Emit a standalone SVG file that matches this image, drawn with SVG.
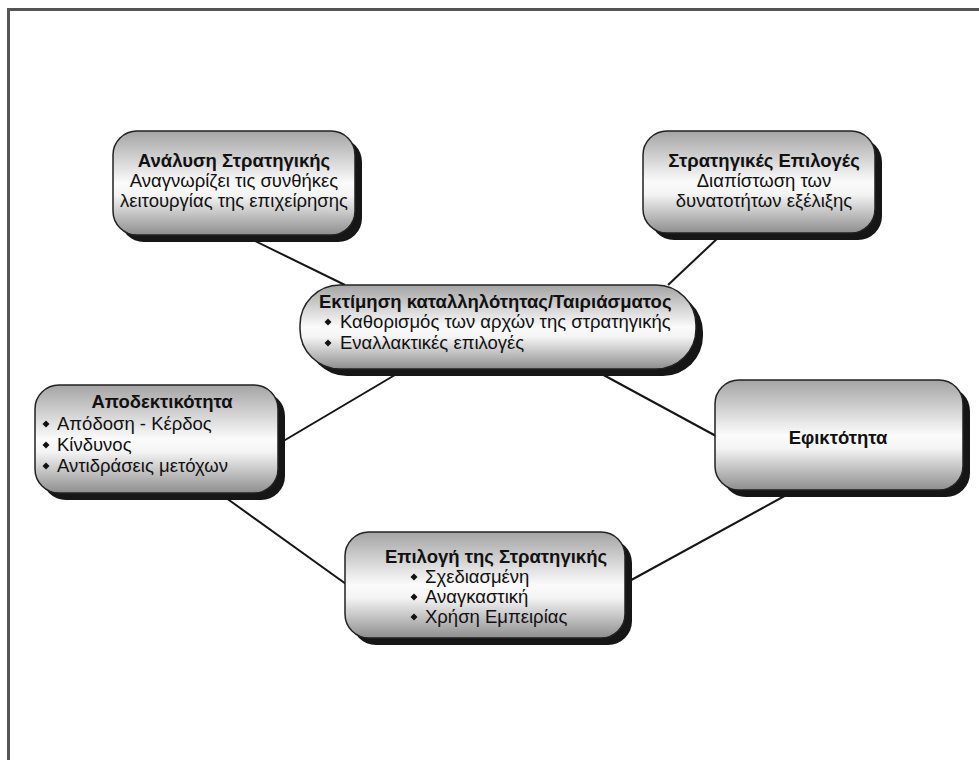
<svg xmlns="http://www.w3.org/2000/svg" width="979" height="760" viewBox="0 0 979 760">
  <defs>
    <linearGradient id="boxFill" x1="0" y1="0" x2="0" y2="1">
      <stop offset="0" stop-color="#a4a4a4"/>
      <stop offset="0.5" stop-color="#fbfbfb"/>
      <stop offset="0.62" stop-color="#f4f4f4"/>
      <stop offset="1" stop-color="#8e8e8e"/>
    </linearGradient>
    <polygon id="bullet" points="0,-3.5 3.5,0 0,3.5 -3.5,0"/>
  </defs>
  <style>
    .frame { fill: none; stroke: #555; stroke-width: 3; }
    .shadow { fill: #161616; }
    .box { fill: url(#boxFill); stroke: #222; stroke-width: 1.5; }
    .link { fill: none; stroke: #151515; stroke-width: 2; }
    text { font-family: "Liberation Sans", Arial, sans-serif; font-size: 18.5px; fill: #111; }
    .title { font-weight: bold; }
    .mid { text-anchor: middle; }
    .dot { fill: #111; }
  </style>

  <rect width="979" height="760" fill="#ffffff"/>
  <!-- outer frame: only top and left edges visible -->
  <path class="frame" d="M8.5 760 V9.5 H979"/>

  <!-- connectors, drawn beneath the boxes -->
  <g id="connectors">
    <line class="link" x1="253" y1="240" x2="345" y2="285"/>
    <line class="link" x1="720" y1="236" x2="668" y2="285"/>
    <line class="link" x1="400" y1="372" x2="280" y2="443"/>
    <line class="link" x1="598" y1="372" x2="716" y2="436"/>
    <line class="link" x1="222" y1="495" x2="346" y2="584"/>
    <line class="link" x1="790" y1="493" x2="624" y2="584"/>
  </g>

  <g id="strategic-analysis">
    <rect class="shadow" x="120" y="138" width="242" height="104" rx="24"/>
    <rect class="box" x="113" y="131" width="242" height="104" rx="24"/>
    <text class="title mid" x="234" y="167">Ανάλυση Στρατηγικής</text>
    <text class="mid" x="234" y="187">Αναγνωρίζει τις συνθήκες</text>
    <text class="mid" x="234" y="207">λειτουργίας της επιχείρησης</text>
  </g>

  <g id="strategic-options">
    <rect class="shadow" x="650" y="138" width="232" height="102" rx="24"/>
    <rect class="box" x="643" y="131" width="232" height="102" rx="24"/>
    <text class="title mid" x="764" y="167">Στρατηγικές Επιλογές</text>
    <text class="mid" x="764" y="187">Διαπίστωση των</text>
    <text class="mid" x="764" y="207">δυνατοτήτων εξέλιξης</text>
  </g>

  <g id="fit-assessment">
    <rect class="shadow" x="307" y="292" width="396" height="84" rx="40"/>
    <rect class="box" x="300" y="285" width="396" height="84" rx="40"/>
    <text class="title" x="319" y="308">Εκτίμηση καταλληλότητας/Ταιριάσματος</text>
    <use href="#bullet" class="dot" x="328" y="322"/>
    <text x="340" y="328">Καθορισμός των αρχών της στρατηγικής</text>
    <use href="#bullet" class="dot" x="328" y="343"/>
    <text x="340" y="349">Εναλλακτικές επιλογές</text>
  </g>

  <g id="acceptability">
    <rect class="shadow" x="42" y="392" width="243" height="108" rx="24"/>
    <rect class="box" x="35" y="385" width="243" height="108" rx="24"/>
    <text class="title mid" x="162" y="408">Αποδεκτικότητα</text>
    <use href="#bullet" class="dot" x="46" y="424"/>
    <text x="57" y="430">Απόδοση - Κέρδος</text>
    <use href="#bullet" class="dot" x="46" y="445"/>
    <text x="57" y="451">Κίνδυνος</text>
    <use href="#bullet" class="dot" x="46" y="466"/>
    <text x="57" y="472">Αντιδράσεις μετόχων</text>
  </g>

  <g id="feasibility">
    <rect class="shadow" x="722" y="387" width="248" height="110" rx="24"/>
    <rect class="box" x="715" y="380" width="248" height="110" rx="24"/>
    <text class="title mid" x="838" y="444">Εφικτότητα</text>
  </g>

  <g id="strategy-choice">
    <rect class="shadow" x="352" y="539" width="280" height="106" rx="24"/>
    <rect class="box" x="345" y="532" width="280" height="106" rx="24"/>
    <text class="title mid" x="496" y="563">Επιλογή της Στρατηγικής</text>
    <use href="#bullet" class="dot" x="414" y="577"/>
    <text x="425" y="583">Σχεδιασμένη</text>
    <use href="#bullet" class="dot" x="414" y="597"/>
    <text x="425" y="603">Αναγκαστική</text>
    <use href="#bullet" class="dot" x="414" y="617"/>
    <text x="425" y="623">Χρήση Εμπειρίας</text>
  </g>
</svg>
